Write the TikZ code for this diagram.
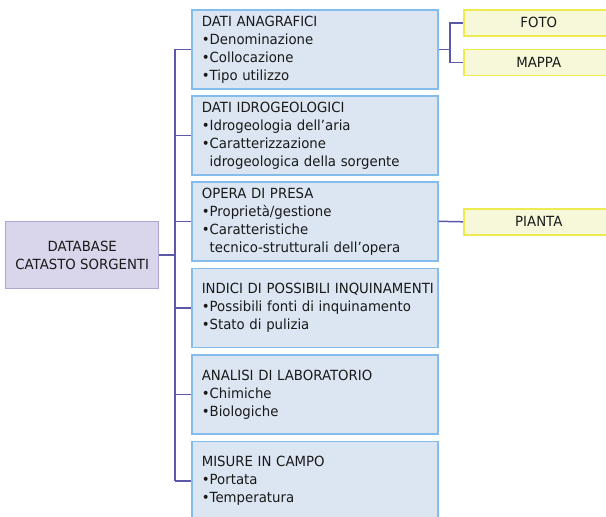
\documentclass[tikz,border=0pt]{standalone}
\usepackage{fontspec}
\setmainfont[FakeStretch=0.95]{DejaVu Sans}
\definecolor{bluefill}{HTML}{DCE6F2}
\definecolor{blueline}{HTML}{84BDEB}
\definecolor{lavfill}{HTML}{D9D5EB}
\definecolor{lavline}{HTML}{B1A3D3}
\definecolor{yelfill}{HTML}{F7F7DA}
\definecolor{yelline}{HTML}{EEEB50}
\definecolor{connc}{HTML}{5C57A6}
\tikzset{
  x=1pt, y=-1pt,
  every node/.style={font=\fontsize{14}{18}\selectfont, text=black!90},
  infobox/.style={draw=blueline, fill=bluefill, line width=1.6pt, rectangle,
    minimum width=246pt, minimum height=79pt, text width=226pt, inner xsep=10pt,
    align=left, anchor=north west},
  rootbox/.style={draw=lavline, fill=lavfill, line width=1.4pt, rectangle,
    minimum width=153pt, minimum height=67pt, align=center, anchor=north west},
  subbox/.style={draw=yelline, fill=yelfill, line width=1.6pt, rectangle,
    minimum width=150pt, minimum height=26pt, inner sep=0pt, anchor=north west},
  conn/.style={draw=connc, line width=1.5pt},
}
\newcommand{\ind}{\phantom{•}}
\begin{document}
\begin{tikzpicture}
\useasboundingbox (0,0) rectangle (606,517);
\fill[white] (0,0) rectangle (606,517);
\coordinate (tr) at (175,0);
\coordinate (tr2) at (450,0);

\node[rootbox] (root) at (5,221) {DATABASE\\CATASTO SORGENTI};

\node[infobox] (b1) at (191,9) {DATI ANAGRAFICI\\•Denominazione\\•Collocazione\\•Tipo utilizzo};
\node[infobox] (b2) at (191,95) {DATI IDROGEOLOGICI\\•Idrogeologia dell’aria\\•Caratterizzazione\\\ind idrogeologica della sorgente};
\node[infobox] (b3) at (191,181) {OPERA DI PRESA\\•Proprietà/gestione\\•Caratteristiche\\\ind tecnico-strutturali dell’opera};
\node[infobox] (b4) at (191,267.5) {\mbox{INDICI DI POSSIBILI INQUINAMENTI}\\\mbox{•Possibili fonti di inquinamento}\\•Stato di pulizia};
\node[infobox] (b5) at (191,354) {ANALISI DI LABORATORIO\\•Chimiche\\•Biologiche};
\node[infobox] (b6) at (191,440.5) {MISURE IN CAMPO\\•Portata\\•Temperatura};

\node[subbox] (foto) at (463,9) {FOTO};
\node[subbox] (mappa) at (463,48.5) {MAPPA};
\node[subbox] (pianta) at (463,208) {PIANTA};

% trunk
\draw[conn] (b1.west -| tr) -- (b6.west -| tr);
\draw[conn] (root.east) -- (root.east -| tr);
\foreach \b in {b1,b2,b3,b4,b5,b6}{
  \draw[conn] (\b.west -| tr) -- (\b.west);
}
% right side
\draw[conn] (b1.east) -- (b1.east -| tr2);
\draw[conn] (foto.west) -| (tr2 |- mappa.west) -- (mappa.west);
\draw[conn] (b3.east) -- (pianta.west);
\end{tikzpicture}
\end{document}
